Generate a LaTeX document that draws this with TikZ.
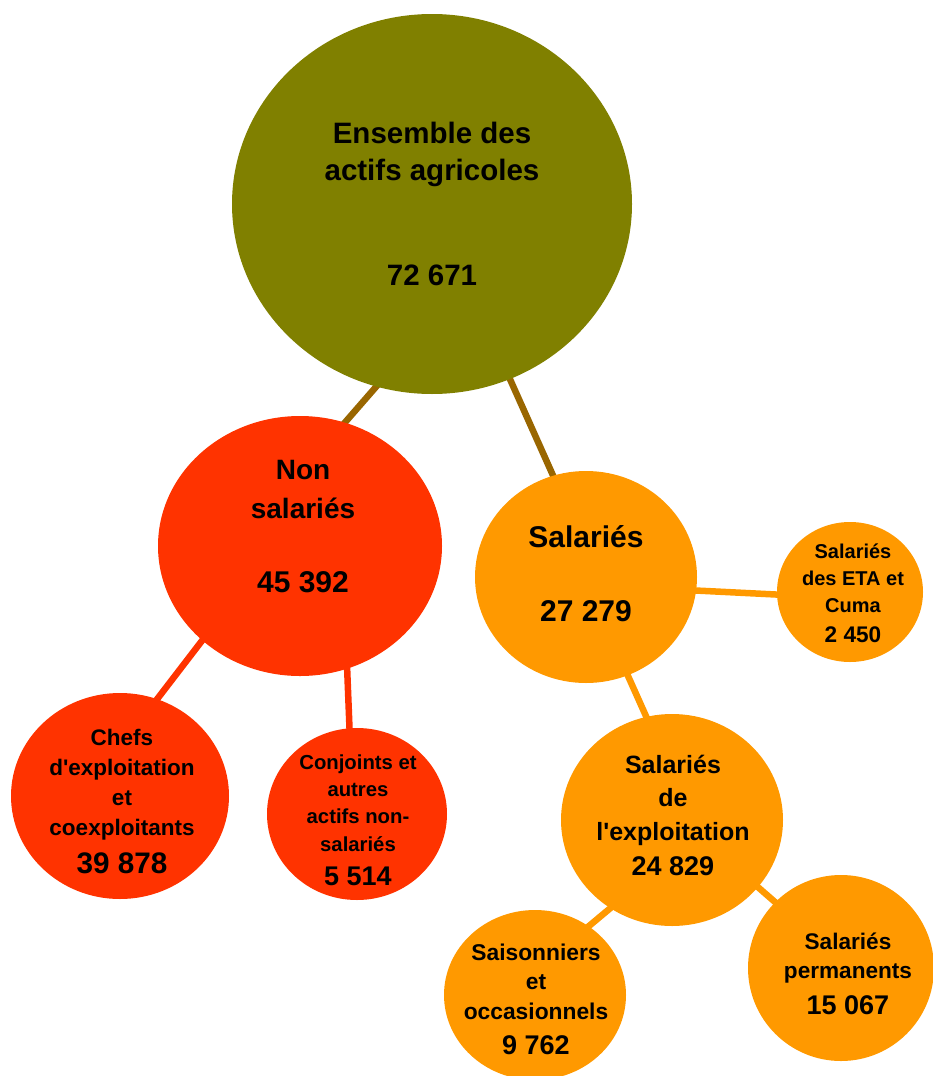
\documentclass[tikz,border=0pt]{standalone}
\usepackage{fontspec}
\setmainfont{Liberation Sans}
\usetikzlibrary{shapes.geometric,backgrounds}
\definecolor{cEns}{HTML}{808000}
\definecolor{cRed}{HTML}{FF3300}
\definecolor{cOra}{HTML}{FF9900}
\definecolor{cLink}{HTML}{996600}
\newcommand{\fs}[2]{\bfseries\fontsize{#1}{#2}\selectfont}
\begin{document}
\begin{tikzpicture}[x=1pt,y=-1pt,
  bub/.style={ellipse,inner sep=0pt,draw=none},
  lbl/.style={align=center,inner sep=0pt,anchor=base,text=black},
  conn/.style={line width=6.5pt,shorten <=-4pt,shorten >=-4pt}]
\useasboundingbox (0,0) rectangle (932,1076);
% bubbles
\node[bub,fill=cEns,minimum width=400pt,minimum height=380pt] (ens) at (432,204) {};
\node[bub,fill=cRed,minimum width=284pt,minimum height=260pt] (non) at (300,546) {};
\node[bub,fill=cRed,minimum width=218pt,minimum height=206pt] (chefs) at (120,796) {};
\node[bub,fill=cRed,minimum width=180pt,minimum height=172pt] (conj) at (357,814) {};
\node[bub,fill=cOra,minimum width=222pt,minimum height=212pt] (sal) at (586,577) {};
\node[bub,fill=cOra,minimum width=146pt,minimum height=140pt] (eta) at (850,592) {};
\node[bub,fill=cOra,minimum width=222pt,minimum height=212pt] (expl) at (672,820) {};
\node[bub,fill=cOra,minimum width=182pt,minimum height=170pt] (sais) at (535,995) {};
\node[bub,fill=cOra,minimum width=186pt,minimum height=186pt] (perm) at (841,968) {};
% connectors
\begin{pgfonlayer}{background}
\draw[conn,cLink] (ens.253) -- (non.70);
\draw[conn,cLink] (ens.294) -- (sal.108);
\draw[conn,cRed] (non.224) -- (chefs.69);
\draw[conn,cRed] (non.291) -- (conj.95);
\draw[conn,cOra] (sal.353) -- (eta.182);
\draw[conn,cOra] (sal.293) -- (expl.104);
\draw[conn,cOra] (expl.235) -- (sais.52);
\draw[conn,cOra] (expl.322) -- (perm.135);
\end{pgfonlayer}
% labels (anchor base = baseline of the last line)
\node[lbl,font=\fs{29.5}{37}] (ensT) at (432,180) {Ensemble des\\actifs agricoles};
\node[lbl,font=\fs{29.5}{36}] (ensN) at (432,285) {72 671};
\node[lbl,font=\fs{28}{39}] (nonT) at (303,518) {Non\\salariés};
\node[lbl,font=\fs{30}{36}] (nonN) at (303,592) {45 392};
\node[lbl,font=\fs{22.5}{29.7}] (chefsT) at (122,835) {Chefs\\d\textquotesingle exploitation\\et\\coexploitants};
\node[lbl,font=\fs{29.7}{36}] (chefsN) at (122,873) {39 878};
\node[lbl,font=\fs{20.3}{27.3}] (conjT) at (358,851) {Conjoints et\\autres\\actifs non-\\salariés};
\node[lbl,font=\fs{27}{33}] (conjN) at (358,885) {5 514};
\node[lbl,font=\fs{30}{36}] (salT) at (586,547) {Salariés};
\node[lbl,font=\fs{30}{36}] (salN) at (586,621) {27 279};
\node[lbl,font=\fs{20}{27}] (etaT) at (853,612) {Salariés\\des ETA et\\Cuma};
\node[lbl,font=\fs{22.6}{27}] (etaN) at (853,642) {2 450};
\node[lbl,font=\fs{25}{33.5}] (explT) at (673,840) {Salariés\\de\\l\textquotesingle exploitation};
\node[lbl,font=\fs{27}{33}] (explN) at (673,875) {24 829};
\node[lbl,font=\fs{22.8}{29.5}] (saisT) at (536,1019) {Saisonniers\\et\\occasionnels};
\node[lbl,font=\fs{27}{33}] (saisN) at (536,1054) {9 762};
\node[lbl,font=\fs{22.6}{29}] (permT) at (848,978) {Salariés\\permanents};
\node[lbl,font=\fs{27}{33}] (permN) at (848,1014) {15 067};
\end{tikzpicture}
\end{document}
